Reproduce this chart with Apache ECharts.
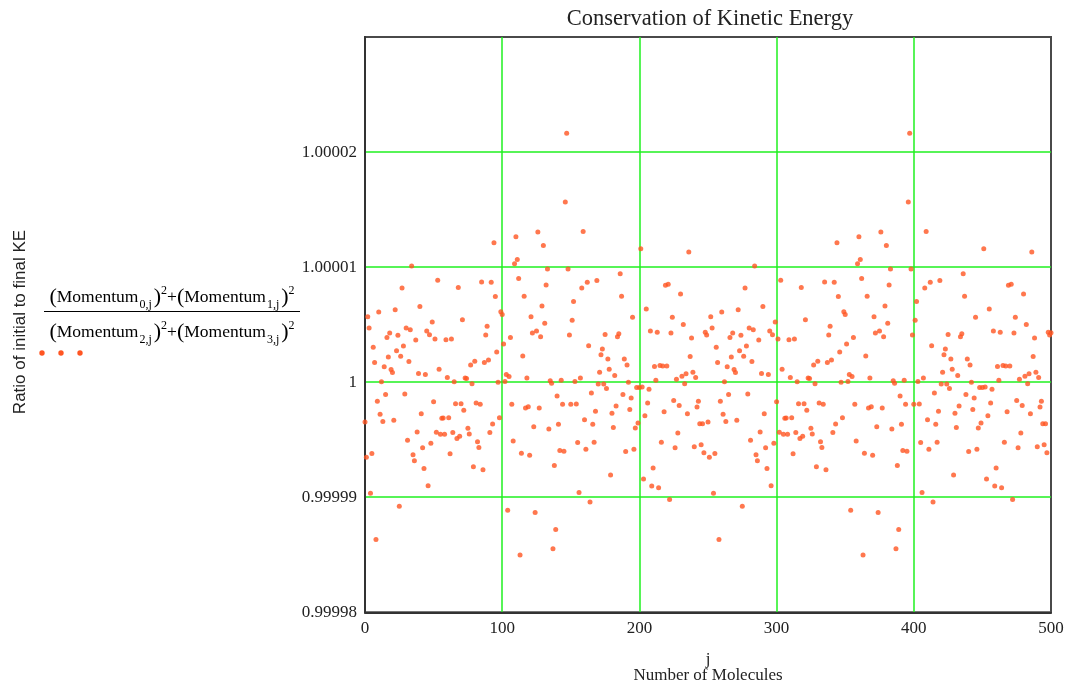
<!DOCTYPE html>
<html>
<head>
<meta charset="utf-8">
<script src="https://cdn.jsdelivr.net/npm/echarts@6/dist/echarts.min.js"></script>
<style>
  html, body { margin: 0; padding: 0; background: #fff; }
  #chart { width: 1073px; height: 689px; }
</style>
</head>
<body>
<div id="chart"></div>
<script>
// Axis ticks
const xTicks = [0, 100, 200, 300, 400, 500];
const yTicks = [0.99998, 0.99999, 1, 1.00001, 1.00002];

// Offset of the kinetic-energy ratio from 1, in parts per million.
// Molecules j = 0 .. 249
const firstRunPpm = [
  -3.46, -6.52, 5.68, 4.70, -9.66, -6.20, 3.03, 1.70, -13.67, -1.67,
  6.09, -2.80, 0.03, -3.43, 1.33, -1.07, 3.89, 2.19, 4.27, 1.10,
  0.84, -3.32, 6.29, 2.74, 4.07, -10.79, 2.25, 8.19, 3.14, -1.04,
  4.70, -5.05, 1.79, 4.56, 10.10, -6.32, -6.84, 3.66, -4.33, 0.75,
  6.58, -2.74, -5.71, -7.50, 0.66, 4.44, -9.00, 4.12, -5.31, 5.22,
  -1.70, 3.75, -4.36, 8.85, 1.12, -4.53, -3.14, -3.12, -4.53, 3.69,
  0.40, -3.09, -6.23, 3.75, -4.38, 0.03, -1.87, -4.90, 8.22, -4.70,
  -1.87, 5.42, -2.45, 0.37, 0.32, -4.01, -4.50, 1.50, -0.14, -7.35,
  1.82, -1.82, -5.19, -5.68, -1.93, 8.71, -7.61, 1.70, 4.10, 4.85,
  1.93, -4.38, 8.68, -3.63, 12.11, 7.44, 2.62, 0.00, -3.09, 6.11,
  5.88, 3.32, 0.06, 0.66, -11.13, 0.49, 3.89, -1.93, -5.11, 10.30,
  12.63, 10.67, 9.00, -15.03, -6.17, 2.28, 7.47, -2.25, 0.37, -2.13,
  -6.35, 5.68, 4.27, -3.87, -11.34, 4.44, 13.04, -2.25, 3.95, 6.61,
  11.88, 5.13, 8.45, 9.84, -4.07, 0.12, -0.09, -14.48, -7.24, -12.81,
  -1.21, -3.66, -5.94, 0.17, -1.93, -6.00, 15.66, 21.63, 9.84, 4.10,
  -1.93, 5.39, 7.01, 0.06, -1.90, -5.25, -9.60, 0.37, 8.19, 13.09,
  -3.26, -5.83, 8.68, 3.17, -10.41, -0.95, -3.66, -5.22, -2.54, 8.83,
  -0.17, 0.87, 2.39, 2.88, -0.17, 4.15, -0.55, 2.02, 1.12, -8.08,
  -2.71, -3.95, 0.58, -2.08, 3.95, 4.21, 9.43, 7.47, -1.07, 2.02,
  -6.03, 1.50, 0.00, -2.37, -1.38, 5.65, -5.83, -3.98, -0.46, -3.55,
  -0.46, 11.60, -0.43, -8.42, -2.91, 6.35, -1.82, -0.61, 4.44, -9.03,
  -7.47, 1.36, 0.17, 4.33, -9.17, 1.44, -5.22, 1.41, -2.57, 8.42,
  1.41, 8.51, -10.21, 4.27, 5.65, -1.59, -5.71, 0.26, -4.41, -2.02,
  7.67, 0.52, 5.02, -0.14, 0.72, -2.74, 11.31, 2.22, 3.84, 0.87,
  -5.62, 0.40, -2.16, -1.67, -3.61, -5.45, -3.61, -6.14, 4.33, 4.10
];

// Molecules j = 250 .. 499
const secondRunPpm = [
  -3.46, -6.52, 5.68, 4.70, -9.66, -6.20, 3.03, 1.70, -13.67, -1.67,
  6.09, -2.80, 0.03, -3.43, 1.33, -1.07, 3.89, 2.19, 4.27, 1.10,
  0.84, -3.32, 6.29, 2.74, 4.07, -10.79, 2.25, 8.19, 3.14, -1.04,
  4.70, -5.05, 1.79, 4.56, 10.10, -6.32, -6.84, 3.66, -4.33, 0.75,
  6.58, -2.74, -5.71, -7.50, 0.66, 4.44, -9.00, 4.12, -5.31, 5.22,
  -1.70, 3.75, -4.36, 8.85, 1.12, -4.53, -3.14, -3.12, -4.53, 3.69,
  0.40, -3.09, -6.23, 3.75, -4.38, 0.03, -1.87, -4.90, 8.22, -4.70,
  -1.87, 5.42, -2.45, 0.37, 0.32, -4.01, -4.50, 1.50, -0.14, -7.35,
  1.82, -1.82, -5.19, -5.68, -1.93, 8.71, -7.61, 1.70, 4.10, 4.85,
  1.93, -4.38, 8.68, -3.63, 12.11, 7.44, 2.62, 0.00, -3.09, 6.11,
  5.88, 3.32, 0.06, 0.66, -11.13, 0.49, 3.89, -1.93, -5.11, 10.30,
  12.63, 10.67, 9.00, -15.03, -6.17, 2.28, 7.47, -2.25, 0.37, -2.13,
  -6.35, 5.68, 4.27, -3.87, -11.34, 4.44, 13.04, -2.25, 3.95, 6.61,
  11.88, 5.13, 8.45, 9.84, -4.07, 0.12, -0.09, -14.48, -7.24, -12.81,
  -1.21, -3.66, -5.94, 0.17, -1.93, -6.00, 15.66, 21.63, 9.84, 4.10,
  -1.93, 5.39, 7.01, 0.06, -1.90, -5.25, -9.60, 0.37, 8.19, 13.09,
  -3.26, -5.83, 8.68, 3.17, -10.41, -0.95, -3.66, -5.22, -2.54, 8.83,
  -0.17, 0.87, 2.39, 2.88, -0.17, 4.15, -0.55, 2.02, 1.12, -8.08,
  -2.71, -3.95, 0.58, -2.08, 3.95, 4.21, 9.43, 7.47, -1.07, 2.02,
  -6.03, 1.50, 0.00, -2.37, -1.38, 5.65, -5.83, -3.98, -0.46, -3.55,
  -0.46, 11.60, -0.43, -8.42, -2.91, 6.35, -1.82, -0.61, 4.44, -9.03,
  -7.47, 1.36, 0.17, 4.33, -9.17, 1.44, -5.22, 1.41, -2.57, 8.42,
  1.41, 8.51, -10.21, 4.27, 5.65, -1.59, -5.71, 0.26, -4.41, -2.02,
  7.67, 0.52, 5.02, -0.14, 0.72, -2.74, 11.31, 2.22, 3.84, 0.87,
  -5.62, 0.40, -2.16, -1.67, -3.61, -5.45, -3.61, -6.14, 4.33, 4.10
];

// Molecule j = 500
const lastPpm = [4.30];

const SERIF = '"Liberation Serif", "DejaVu Serif", serif';
const SANS = '"Liberation Sans", Arial, sans-serif';
const DOT = '#ff5522';
const GRID_GREEN = '#1ff01f';

// ratio = 1 + offset (ppm -> plain ratio)
const points = [];
firstRunPpm.concat(secondRunPpm, lastPpm).forEach(function (d, j) {
  if (d !== null) points.push([j, 1 + d * 1e-6]);
});

function yLabel(v) {
  for (const t of yTicks) {
    if (Math.abs(v - t) < 1e-9) return String(+t.toFixed(5));
  }
  return '';
}
function xLabel(v) {
  return xTicks.indexOf(Math.round(v)) >= 0 ? String(Math.round(v)) : '';
}

const fracRich = {
  p: { fontFamily: SERIF, fontSize: 22, lineHeight: 26, verticalAlign: 'middle', fill: '#000' },
  b: { fontFamily: SERIF, fontSize: 17.5, lineHeight: 26, verticalAlign: 'middle', fill: '#000' },
  s: { fontFamily: SERIF, fontSize: 12, lineHeight: 12, verticalAlign: 'bottom', fill: '#000', padding: [0, 2, 0, 1] },
  u: { fontFamily: SERIF, fontSize: 12, lineHeight: 12, verticalAlign: 'top', fill: '#000' }
};

const chart = echarts.init(document.getElementById('chart'), null, { renderer: 'canvas' });
chart.setOption({
  animation: false,
  backgroundColor: '#fff',
  title: {
    text: 'Conservation of Kinetic Energy',
    left: 705,
    top: 3,
    textAlign: 'center',
    textStyle: { fontFamily: SERIF, fontSize: 22.5, fontWeight: 'normal', color: '#222' }
  },
  grid: {
    left: 365, right: 22, top: 37, bottom: 73.5,
    show: true, borderColor: '#4a4a4a', borderWidth: 2
  },
  xAxis: {
    type: 'value',
    min: 0, max: 500, interval: 100,
    axisLine: { show: true, lineStyle: { color: '#333', width: 2 } },
    axisTick: { show: false },
    axisLabel: { formatter: xLabel, fontFamily: SERIF, fontSize: 17, color: '#222', margin: 8 },
    splitLine: { show: true, showMinLine: false, showMaxLine: false, lineStyle: { color: GRID_GREEN, width: 1.5 } },
    name: 'j\nNumber of Molecules',
    nameLocation: 'middle',
    nameGap: 40,
    nameTextStyle: { fontFamily: SERIF, fontSize: 17, color: '#222', lineHeight: 15.5 }
  },
  yAxis: {
    type: 'value',
    min: 0.99998, max: 1.00003, interval: 0.00001,
    axisLine: { show: true, lineStyle: { color: '#333', width: 2 } },
    axisTick: { show: false },
    axisLabel: { formatter: yLabel, fontFamily: SERIF, fontSize: 17, color: '#222', margin: 8 },
    splitLine: { show: true, showMinLine: false, showMaxLine: false, lineStyle: { color: GRID_GREEN, width: 1.5 } }
  },
  series: [{
    type: 'scatter',
    data: points,
    symbol: 'circle',
    symbolSize: 5,
    itemStyle: { color: DOT },
    z: 5
  }],
  graphic: [
    {
      type: 'text', x: 20, y: 322, rotation: Math.PI / 2,
      style: {
        text: 'Ratio of initial to final KE', font: '17px ' + SANS, fill: '#222',
        align: 'center', verticalAlign: 'middle', textAlign: 'center', textVerticalAlign: 'middle'
      }
    },
    {
      type: 'text', x: 172, y: 297.5,
      style: {
        text: '{p|(}{b|Momentum}{s|0,j}{p|)}{u|2}{b|+}{p|(}{b|Momentum}{s|1,j}{p|)}{u|2}',
        rich: fracRich, fill: '#000',
        align: 'center', verticalAlign: 'middle', textAlign: 'center', textVerticalAlign: 'middle'
      }
    },
    {
      type: 'line',
      shape: { x1: 44, y1: 311.5, x2: 300, y2: 311.5 },
      style: { stroke: '#000', lineWidth: 1 }
    },
    {
      type: 'text', x: 172, y: 332.5,
      style: {
        text: '{p|(}{b|Momentum}{s|2,j}{p|)}{u|2}{b|+}{p|(}{b|Momentum}{s|3,j}{p|)}{u|2}',
        rich: fracRich, fill: '#000',
        align: 'center', verticalAlign: 'middle', textAlign: 'center', textVerticalAlign: 'middle'
      }
    },
    { type: 'circle', shape: { cx: 42, cy: 353, r: 2.7 }, style: { fill: DOT } },
    { type: 'circle', shape: { cx: 61, cy: 353, r: 2.7 }, style: { fill: DOT } },
    { type: 'circle', shape: { cx: 80, cy: 353, r: 2.7 }, style: { fill: DOT } }
  ]
});
</script>
</body>
</html>
